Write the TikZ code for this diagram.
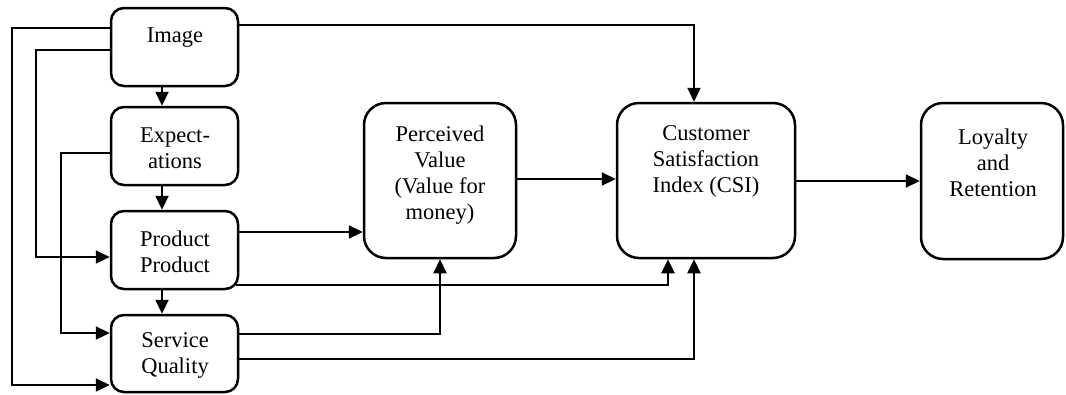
\documentclass[tikz,border=0pt]{standalone}
\usepackage{fontspec}
\setmainfont{Liberation Serif}
\usetikzlibrary{arrows.meta}
\begin{document}
\begin{tikzpicture}[x=1pt,y=-1pt,
  box/.style={draw,line width=2.5pt,rounded corners=13pt,inner sep=0pt},
  bigbox/.style={box,rounded corners=22pt},
  txt/.style={align=center,inner sep=0pt,font=\fontsize{22.5}{26}\selectfont},
  arr/.style={line width=2.2pt,-{Triangle[length=14pt,width=13pt]}}]
\useasboundingbox (0,0) rectangle (1066,394);
% boxes
\node[box,minimum width=127pt,minimum height=78pt] (img) at (174.5,47) {};
\node[box,minimum width=127pt,minimum height=78pt] (exp) at (174.5,146) {};
\node[box,minimum width=127pt,minimum height=78pt] (prod) at (174.5,250) {};
\node[box,minimum width=127pt,minimum height=77pt] (svc) at (174.5,353.5) {};
\node[bigbox,minimum width=152pt,minimum height=155pt] (pv) at (440,180.5) {};
\node[bigbox,minimum width=178pt,minimum height=155pt] (csi) at (706,180.5) {};
\node[bigbox,minimum width=142pt,minimum height=156pt] (loy) at (992,181) {};
% texts
\node[txt] (timg) at (175,38) {Image};
\node[txt] (texp) at (175,148) {Expect-\\ations};
\node[txt] (tprod) at (175,252) {Product\\Product};
\node[txt] (tsvc) at (175,355) {Service\\Quality};
\node[txt] (tpv) at (440,175) {Perceived\\Value\\(Value for\\money)};
\node[txt] (tcsi) at (706,161) {Customer\\Satisfaction\\Index (CSI)};
\node[txt] (tloy) at (993,163) {Loyalty\\and\\Retention};
% vertical chain
\draw[arr] ([xshift=-12.5pt]img.south) -- ([xshift=-12.5pt]exp.north);
\draw[arr] ([xshift=-12.5pt]exp.south) -- ([xshift=-12.5pt]prod.north);
\draw[arr] ([xshift=-12.5pt]prod.south) -- ([xshift=-12.5pt]svc.north);
% left feedback lines
\draw[arr] (img.west |- 0,28) -- (12,28) -- (12,385) -- (svc.west |- 0,385);
\draw[arr] (img.west |- 0,50) -- (36,50) -- (36,257) -- (prod.west |- 0,257);
\draw[arr] (exp.west |- 0,153) -- (61,153) -- (61,333) -- (svc.west |- 0,333);
% to the right
\draw[arr] (img.east |- 0,25) -| (csi.north -| 694,0);
\draw[arr] (prod.east |- 0,232) -- (pv.west |- 0,232);
\draw[arr] ([xshift=-3pt]prod.east |- 0,285) -| (csi.south -| 668,0);
\draw[arr] (svc.east |- 0,334) -| (pv.south);
\draw[arr] (svc.east |- 0,359) -| (csi.south -| 694,0);
\draw[arr] (pv.east |- 0,179) -- (csi.west |- 0,179);
\draw[arr] (csi.east |- 0,181) -- (loy.west |- 0,181);
\end{tikzpicture}
\end{document}
